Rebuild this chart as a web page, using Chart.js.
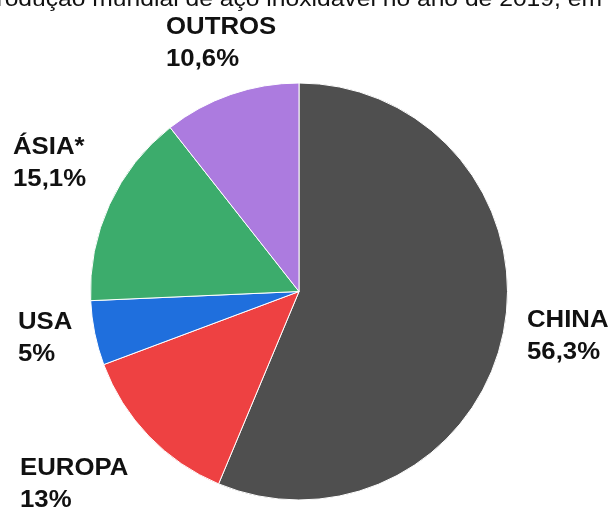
<!DOCTYPE html>
<html>
<head>
<meta charset="utf-8">
<script src="https://cdn.jsdelivr.net/npm/chart.js@4/dist/chart.umd.min.js"></script>
<style>
    html, body { margin: 0; padding: 0; background: #fff; overflow: hidden; }
    #wrap { width: 610px; height: 508px; }
</style>
</head>
<body>
<div id="wrap"><canvas id="pieChart" width="610" height="508"></canvas></div>
<script>
// Produção mundial de aço inoxidável, 2019 (%)
const regions = ['CHINA', 'EUROPA', 'USA', 'ÁSIA*', 'OUTROS'];
const shares = [56.3, 13, 5, 15.1, 10.6];
const sliceColors = ['#4f4f4f', '#ee4142', '#1f6fdd', '#3cac6c', '#ac7bdf'];

const TITLE = 'Produção mundial de aço inoxidável no ano de 2019, em %';

// where each label block sits (left edge, top of the first line)
const labelSpots = [
    { x: 527, y: 310 },  // CHINA
    { x: 20,  y: 458 },  // EUROPA
    { x: 18,  y: 312 },  // USA
    { x: 13,  y: 137 },  // ÁSIA*
    { x: 166, y: 17 }    // OUTROS
];

const STRETCH = 1.12;   // text is drawn a bit wide
const fmtPct = v => String(v).replace('.', ',') + '%';

function stretchedText(ctx, text, x, y) {
    ctx.save();
    ctx.translate(x, y);
    ctx.scale(STRETCH, 1);
    ctx.fillText(text, 0, 0);
    ctx.restore();
}

const labelsPlugin = {
    id: 'sliceLabels',
    afterDraw(chart) {
        const ctx = chart.ctx;
        ctx.save();
        ctx.fillStyle = '#111';
        ctx.textAlign = 'left';

        // title, partly cut off at the top edge
        ctx.font = '22px "Liberation Sans", Arial, sans-serif';
        ctx.textBaseline = 'alphabetic';
        stretchedText(ctx, TITLE, -20, 6);

        ctx.font = 'bold 23px "Liberation Sans", Arial, sans-serif';
        const values = chart.data.datasets[0].data;
        chart.data.labels.forEach((name, i) => {
            const spot = labelSpots[i];
            const capH = 16.5;
            stretchedText(ctx, name, spot.x, spot.y + capH);
            stretchedText(ctx, fmtPct(values[i]), spot.x, spot.y + capH + 32);
        });
        ctx.restore();
    }
};

new Chart(document.getElementById('pieChart'), {
    type: 'pie',
    data: {
        labels: regions,
        datasets: [{
            data: shares,
            backgroundColor: sliceColors,
            borderColor: '#ffffff',
            borderWidth: 1
        }]
    },
    options: {
        responsive: false,
        animation: false,
        rotation: 0,
        layout: { padding: { left: 90, right: 102, top: 82, bottom: 7 } },
        plugins: {
            legend: { display: false },
            tooltip: { enabled: false },
            title: { display: false }
        }
    },
    plugins: [labelsPlugin]
});
</script>
</body>
</html>
